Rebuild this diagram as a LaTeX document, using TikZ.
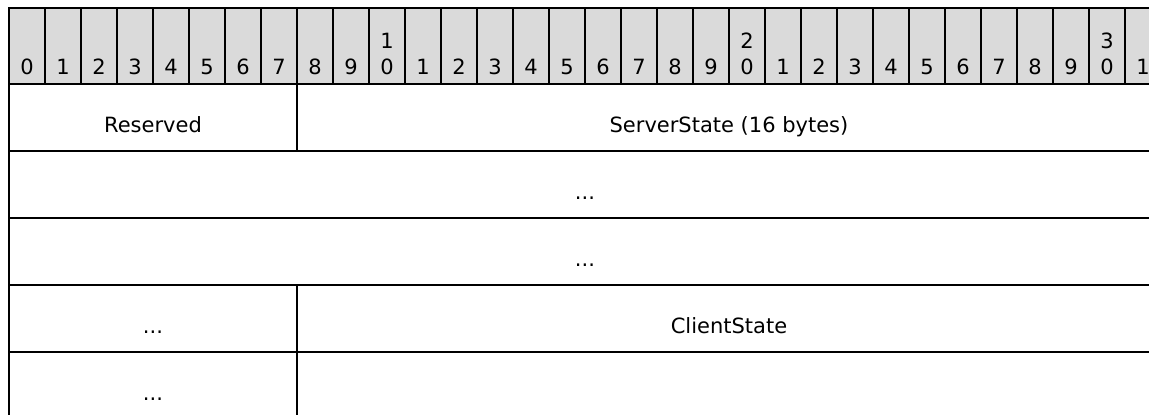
\documentclass[tikz,border=0pt]{standalone}
\usepackage{fontspec}
\setmainfont{DejaVu Sans}
\definecolor{hdrgray}{RGB}{218,218,218}
\tikzset{
  bitnum/.style={font=\fontsize{21}{26}\selectfont, anchor=base, inner sep=0pt},
  field/.style={font=\fontsize{21}{26}\selectfont, anchor=base, inner sep=0pt},
  rule/.style={line width=2.2pt},
  tick/.style={line width=1.2pt}
}
\begin{document}
\begin{tikzpicture}[x=1pt, y=-1pt]
\useasboundingbox(0,0) rectangle (1149,415);
\clip(0,0) rectangle (1149,415);
% header row with bit numbers
\fill[hdrgray](9,8) rectangle (1161,84);
\foreach \i in {1,...,31}
    \draw[tick](9+36*\i,8)--(9+36*\i,84);
\foreach \i in {0,...,31}
{
    \pgfmathtruncatemacro{\ones}{mod(\i,10)}
    \pgfmathtruncatemacro{\tens}{\i/10}
    \node[bitnum](bit\i) at (27+36*\i,74){\ones};
    \ifnum\ones=0 \ifnum\tens>0
        \node[bitnum](tens\i) at (27+36*\i,48){\tens};
    \fi\fi
}
% rows
\foreach \y in {8,84,151,218,285,352}
    \draw[rule](9,\y)--(1161,\y);
\draw[rule](9,7)--(9,415);
\draw[rule](1161,7)--(1161,415);
\draw[rule](297,84)--(297,151);
\draw[rule](297,285)--(297,415);
% fields
\node[field](reserved) at (153,132){Reserved};
\node[field](serverstate) at (729,132){ServerState (16 bytes)};
\node[field](more1) at (585,199){...};
\node[field](more2) at (585,266){...};
\node[field](more3) at (153,333){...};
\node[field](clientstate) at (729,333){ClientState};
\node[field](more4) at (153,400){...};
\end{tikzpicture}
\end{document}
